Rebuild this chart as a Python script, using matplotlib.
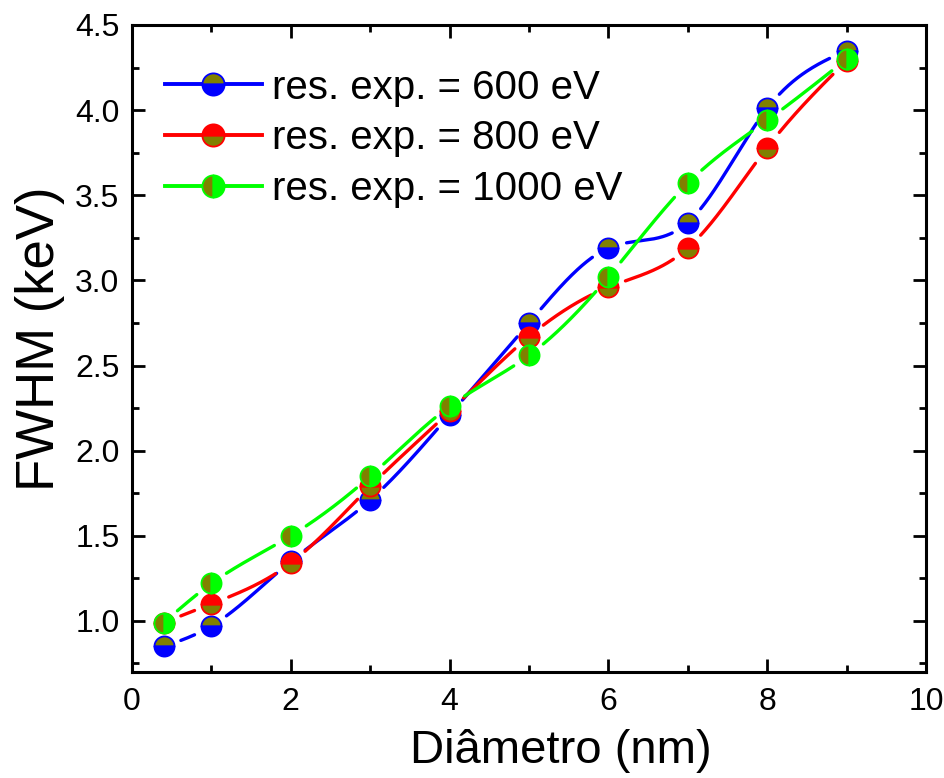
import numpy as np
import matplotlib
matplotlib.use("Agg")
import matplotlib.pyplot as plt
from matplotlib.lines import Line2D
from matplotlib.ticker import MultipleLocator

plt.rcParams['font.family'] = ['Liberation Sans', 'DejaVu Sans']

# data
diametro = [0.4, 1, 2, 3, 4, 5, 6, 7, 8, 9]
fwhm_600 = [0.85, 0.97, 1.35, 1.71, 2.21, 2.75, 3.19, 3.34, 4.01, 4.35]
fwhm_800 = [0.99, 1.10, 1.34, 1.79, 2.23, 2.67, 2.96, 3.19, 3.78, 4.29]
fwhm_1000 = [0.99, 1.22, 1.50, 1.85, 2.26, 2.56, 3.02, 3.57, 3.94, 4.30]
labels = ['res. exp. = 600 eV', 'res. exp. = 800 eV', 'res. exp. = 1000 eV']
colors = ['#0000ff', '#ff0000', '#00ff00']
fills = ['top', 'bottom', 'left']
olive = '#808000'


def natural_spline(x, y, n=600):
    x = np.asarray(x, float)
    y = np.asarray(y, float)
    k = len(x)
    h = np.diff(x)
    A = np.zeros((k, k))
    b = np.zeros(k)
    A[0, 0] = A[-1, -1] = 1
    for i in range(1, k - 1):
        A[i, i - 1] = h[i - 1]
        A[i, i] = 2 * (h[i - 1] + h[i])
        A[i, i + 1] = h[i]
        b[i] = 3 * ((y[i + 1] - y[i]) / h[i] - (y[i] - y[i - 1]) / h[i - 1])
    c = np.linalg.solve(A, b)
    xs = np.linspace(x[0], x[-1], n)
    idx = np.clip(np.searchsorted(x, xs) - 1, 0, k - 2)
    dt = xs - x[idx]
    bi = (y[idx + 1] - y[idx]) / h[idx] - h[idx] * (2 * c[idx] + c[idx + 1]) / 3
    di = (c[idx + 1] - c[idx]) / (3 * h[idx])
    ys = y[idx] + bi * dt + c[idx] * dt ** 2 + di * dt ** 3
    return xs, ys


fig = plt.figure(figsize=(9.45, 7.78), dpi=100)
ax = fig.add_axes([132 / 945, 1 - 672 / 778, 794 / 945, 647 / 778])
ax.set_xlim(0, 10)
ax.set_ylim(0.7, 4.5)

gap = 18  # pixels of white space around each marker
for i, (yv, col, fs) in enumerate(zip([fwhm_600, fwhm_800, fwhm_1000], colors, fills)):
    xs, ys = natural_spline(diametro, yv)
    pts = ax.transData.transform(np.column_stack([xs, ys]))
    dpts = ax.transData.transform(np.column_stack([diametro, yv]))
    dist = np.min(np.hypot(pts[:, None, 0] - dpts[None, :, 0],
                           pts[:, None, 1] - dpts[None, :, 1]), axis=1)
    ys = np.where(dist < gap, np.nan, ys)
    ax.plot(xs, ys, color=col, lw=2.4, zorder=2 + 2 * i, solid_capstyle='round')
    ax.plot(diametro, yv, ls='none', marker='o', ms=14.5, fillstyle=fs,
            markerfacecolor=olive, markerfacecoloralt=col,
            markeredgecolor=col, markeredgewidth=1.3, zorder=3 + 2 * i)

handles = [Line2D([], [], color=c, lw=2.8, marker='o', ms=16, fillstyle=f,
                  markerfacecolor=olive, markerfacecoloralt=c,
                  markeredgecolor=c, markeredgewidth=1.3)
           for c, f in zip(colors, fills)]
ax.legend(handles, labels, loc='upper left', bbox_to_anchor=(0.011, 0.97),
          frameon=False, fontsize=29, handlelength=2.4, handletextpad=0.25,
          labelspacing=0.32, borderaxespad=0.2)

ax.xaxis.set_major_locator(MultipleLocator(2))
ax.xaxis.set_minor_locator(MultipleLocator(1))
ax.yaxis.set_major_locator(MultipleLocator(0.5))
ax.yaxis.set_minor_locator(MultipleLocator(0.25))
ax.tick_params(which='both', direction='in', top=True, right=True, width=2.0)
ax.tick_params(which='major', length=9.5)
ax.tick_params(which='minor', length=5)
ax.tick_params(axis='x', which='major', pad=11)
ax.tick_params(axis='y', which='major', pad=9)
for lab in ax.get_xticklabels() + ax.get_yticklabels():
    lab.set_fontsize(23)
for sp in ax.spines.values():
    sp.set_linewidth(2.2)

ax.set_xlabel('Diâmetro (nm)', fontsize=34)
ax.set_ylabel('FWHM (keV)', fontsize=38)
ax.xaxis.set_label_coords(0.54, -0.088)
ax.yaxis.set_label_coords(-0.085, 0.515)

fig.savefig('out.png', dpi=100)
